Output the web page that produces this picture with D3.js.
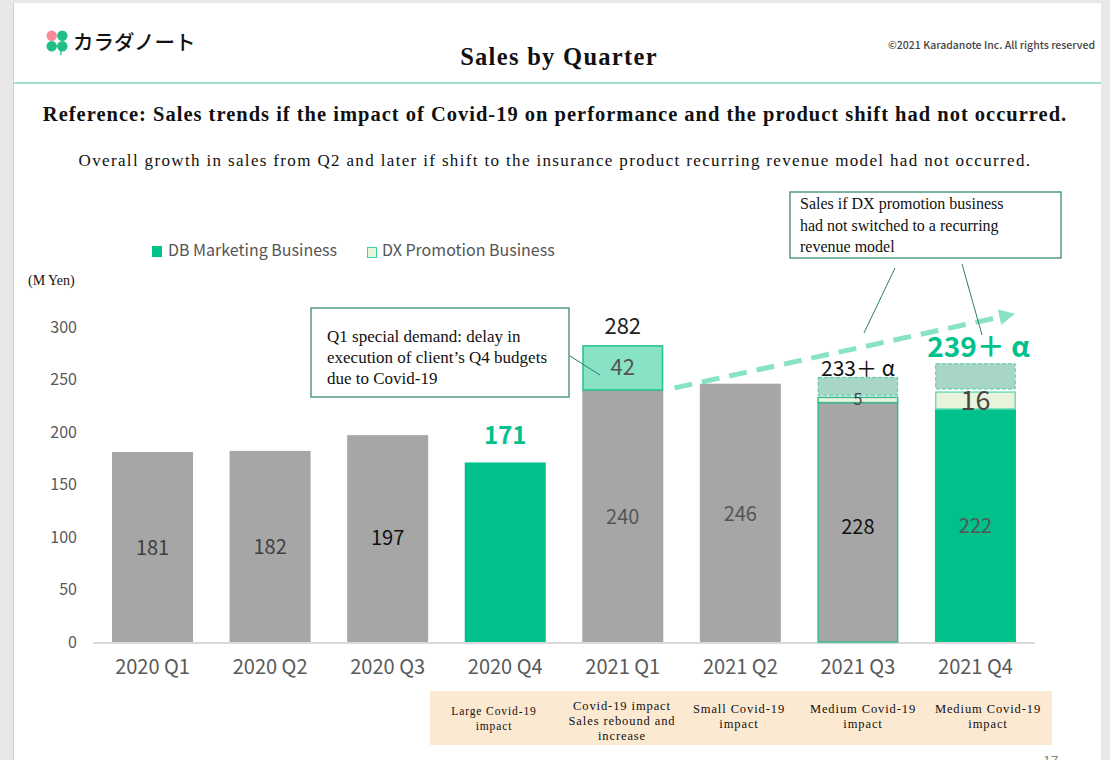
<!DOCTYPE html>
<html><head><meta charset="utf-8">
<script src="https://cdn.jsdelivr.net/npm/d3@7/dist/d3.min.js"></script>
<style>body{margin:0;background:#e8e8e8;}svg{display:block;}</style>
</head><body>
<svg id="c" width="1110" height="760"></svg>
<script>
const quarters = ["2020 Q1","2020 Q2","2020 Q3","2020 Q4","2021 Q1","2021 Q2","2021 Q3","2021 Q4"];
const dbValues = [181,182,197,171,240,246,228,222];
const dxValues = [0,0,0,0,42,0,5,16];
const alphaLow = [null,null,null,null,null,null,235,241];
const alphaHigh = [null,null,null,null,null,null,252,265];
const totalLabels = ["","","","171","282","","233＋ α","239＋ α"];
const yTicks = [0,50,100,150,200,250,300];
const impactNotes = [["Large Covid-19","impact"],["Covid-19 impact","Sales rebound and","increase"],["Small Covid-19","impact"],["Medium Covid-19","impact"],["Medium Covid-19","impact"]];
const trendPoints = [[4.44,242],[7.27,311]];

const svg = d3.select("#c");
const sans = "'Noto Sans CJK JP','Noto Sans',sans-serif";
const serif = "'Liberation Serif','Times New Roman',serif";
// page
svg.append("rect").attr("x",14).attr("y",3).attr("width",1087).attr("height",757).attr("fill","#fff");
svg.append("line").attr("x1",13.5).attr("x2",13.5).attr("y1",3).attr("y2",760).attr("stroke","#d0d0d0");
svg.append("line").attr("x1",14).attr("x2",1101).attr("y1",83).attr("y2",83).attr("stroke","#7fd8b8").attr("stroke-width",1.5);

// logo (clover)
const lg = svg.append("g").attr("transform","translate(57,41)");
[["#f58a9a",-1,-1],["#1fbf86",1,-1],["#1fbf86",1,1],["#1fbf86",-1,1]].forEach(([c,sx,sy])=>{
  lg.append("circle").attr("cx",sx*5.3).attr("cy",sy*5.3).attr("r",5.2).attr("fill",c);
});
lg.append("path").attr("d","M3,9 Q5,12 3.5,14").attr("stroke","#1fbf86").attr("stroke-width",1.3).attr("fill","none");
svg.append("text").attr("x",73).attr("y",50).attr("font-family",sans).attr("font-size",20.5).attr("font-weight",500).attr("fill","#111").text("カラダノート");
svg.append("text").attr("x",1095).attr("y",49).attr("text-anchor","end").attr("font-family",sans).attr("font-size",10.5).attr("font-weight",500).attr("fill","#444").text("©2021 Karadanote Inc. All rights reserved");
svg.append("text").attr("x",559).attr("y",65).attr("text-anchor","middle").attr("font-family",serif).attr("font-weight","bold").attr("font-size",24.5).attr("fill","#111").attr("letter-spacing",1.3).text("Sales by Quarter");
svg.append("text").attr("x",555).attr("y",121).attr("text-anchor","middle").attr("font-family",serif).attr("font-weight","bold").attr("font-size",20.5).attr("letter-spacing",1.0).attr("fill","#111").text("Reference: Sales trends if the impact of Covid-19 on performance and the product shift had not occurred.");
svg.append("text").attr("x",555).attr("y",166).attr("text-anchor","middle").attr("font-family",serif).attr("font-size",17).attr("letter-spacing",1.35).attr("fill","#111").text("Overall growth in sales from Q2 and later if shift to the insurance product recurring revenue model had not occurred.");

// legend
svg.append("rect").attr("x",152).attr("y",246).attr("width",10).attr("height",11).attr("fill","#00c08b");
svg.append("text").attr("x",168).attr("y",256).attr("font-family",sans).attr("font-size",16).attr("fill","#555").text("DB Marketing Business");
svg.append("rect").attr("x",367.5).attr("y",247.5).attr("width",9).attr("height",10).attr("fill","#e8f3dc").attr("stroke","#3cd39e");
svg.append("text").attr("x",382).attr("y",256).attr("font-family",sans).attr("font-size",16).attr("fill","#555").text("DX Promotion Business");
svg.append("text").attr("x",28).attr("y",285).attr("font-family",serif).attr("font-size",14).attr("fill","#111").text("(M Yen)");

// scales
const x = d3.scaleBand().domain(quarters).range([93.7,1034.3]).paddingInner(0.311).paddingOuter(0.156);
const y = d3.scaleLinear().domain([0,300]).range([642,327]);

// y axis
const ya = svg.append("g").attr("transform","translate(77,0)").call(d3.axisLeft(y).tickValues(yTicks).tickSize(0).tickPadding(0));
ya.select(".domain").remove();
ya.selectAll("text").attr("font-family",sans).attr("font-size",16).attr("fill","#595959");

// baseline
svg.append("line").attr("x1",93).attr("x2",1035).attr("y1",y(0)+1).attr("y2",y(0)+1).attr("stroke","#d9d9d9").attr("stroke-width",2);

// x axis
const xa = svg.append("g").attr("transform",`translate(0,${y(0)})`).call(d3.axisBottom(x).tickSize(0).tickPadding(18));
xa.select(".domain").remove();
xa.selectAll("text").attr("font-family",sans).attr("font-size",20).attr("fill","#595959");

// bars
const greenIdx = new Set([3,7]);
quarters.forEach((q,i)=>{
  const bx = x(q), bw = x.bandwidth();
  const col = greenIdx.has(i) ? "#00c08b" : "#a6a6a6";
  const r = svg.append("rect").attr("x",bx).attr("width",bw).attr("y",y(dbValues[i])).attr("height",y(0)-y(dbValues[i])).attr("fill",col);
  if(i===6) r.attr("stroke","#3bb88f").attr("stroke-width",1.5).attr("x",bx+0.75).attr("width",bw-1.5);
  if(dxValues[i]>0){
    const top = dbValues[i]+dxValues[i];
    const fill = i===4 ? "#88e2c6" : "#e8f3dc";
    const stroke = i===4 ? "#21c28c" : (i===6?"#3bb88f":"#6fdcb5");
    svg.append("rect").attr("x",bx+0.75).attr("width",bw-1.5).attr("y",y(top)).attr("height",y(dbValues[i])-y(top)).attr("fill",fill).attr("stroke",stroke).attr("stroke-width",1.5);
  }
  if(alphaLow[i]!=null){
    svg.append("rect").attr("x",bx+0.75).attr("width",bw-1.5).attr("y",y(alphaHigh[i])).attr("height",y(alphaLow[i])-y(alphaHigh[i])).attr("fill","#a7d6c8").attr("stroke","#4fc9a0").attr("stroke-width",1).attr("stroke-dasharray","4,2");
  }
});

// value labels inside
const inColor = ["#404040","#404040","#111","", "#555","#555","#111","#555"];
const inDy = [8,8,6,0,8,8,12,8];
quarters.forEach((q,i)=>{
  if(i===3) return;
  const cx = x(q)+x.bandwidth()/2;
  svg.append("text").attr("x",cx).attr("y",(y(dbValues[i])+y(0))/2+inDy[i]).attr("text-anchor","middle").attr("font-family",sans).attr("font-size",20).attr("fill",inColor[i]).text(dbValues[i]);
});
// DX labels
[[4,22,"#555",7],[6,16,"#444",5],[7,27,"#444",9]].forEach(([i,fs,c,dy])=>{
  const cx = x(quarters[i])+x.bandwidth()/2;
  const mid = (y(dbValues[i])+y(dbValues[i]+dxValues[i]))/2;
  svg.append("text").attr("x",cx).attr("y",mid+dy).attr("text-anchor","middle").attr("font-family",sans).attr("font-size",fs).attr("fill",c).text(dxValues[i]);
});
// totals
const totStyle = {3:[24,"bold","#00c08b",444],4:[22,"normal","#222",334],6:[21,"normal","#111",376],7:[28,"bold","#00c08b",357]};
Object.entries(totStyle).forEach(([i,[fs,fw,c,ty]])=>{
  const cx = x(quarters[i])+x.bandwidth()/2;
  svg.append("text").attr("x",cx+(i==7?3:0)).attr("y",ty).attr("text-anchor","middle").attr("font-family",sans).attr("font-size",fs).attr("font-weight",fw).attr("fill",c).text(totalLabels[i]);
});

// trend arrow
const xi = v => x(quarters[0]) + x.bandwidth()/2 + v*x.step();
const p0 = [xi(trendPoints[0][0]), y(trendPoints[0][1])];
const p1 = [xi(trendPoints[1][0]), y(trendPoints[1][1])];
svg.append("defs").append("marker").attr("id","ah").attr("viewBox","0 0 10 10").attr("refX",5).attr("refY",5).attr("markerWidth",3.2).attr("markerHeight",3.2).attr("orient","auto")
  .append("path").attr("d","M0,0 L10,5 L0,10 Z").attr("fill","#88e2c6");
svg.append("line").attr("x1",p0[0]).attr("y1",p0[1]).attr("x2",p1[0]).attr("y2",p1[1]).attr("stroke","#88e2c6").attr("stroke-width",5).attr("stroke-dasharray","18,10").attr("marker-end","url(#ah)");

// callout 1
svg.append("line").attr("x1",570).attr("y1",356).attr("x2",600).attr("y2",375).attr("stroke","#2f7d66").attr("stroke-width",1);
svg.append("rect").attr("x",311).attr("y",308).attr("width",258).attr("height",89).attr("fill","#fff").attr("stroke","#3a8a72").attr("stroke-width",1.3);
["Q1 special demand: delay in","execution of client’s Q4 budgets","due to Covid-19"].forEach((t,k)=>{
  svg.append("text").attr("x",327).attr("y",342+k*21).attr("font-family",serif).attr("font-size",17).attr("fill","#111").text(t);
});
// callout 2
svg.append("rect").attr("x",790).attr("y",192).attr("width",271).attr("height",66).attr("fill","#fff").attr("stroke","#3a8a72").attr("stroke-width",1.3);
["Sales if DX promotion business","had not switched to a recurring","revenue model"].forEach((t,k)=>{
  svg.append("text").attr("x",800).attr("y",209+k*21.5).attr("font-family",serif).attr("font-size",16).attr("fill","#111").text(t);
});
svg.append("line").attr("x1",895).attr("y1",268).attr("x2",864).attr("y2",333).attr("stroke","#2f7d66").attr("stroke-width",1);
svg.append("line").attr("x1",962).attr("y1",264).attr("x2",982).attr("y2",335).attr("stroke","#2f7d66").attr("stroke-width",1);

// impact notes
svg.append("rect").attr("x",430).attr("y",691).attr("width",622).attr("height",54).attr("fill","#fce9d1");
const noteX = [494,622,739,863,988];
impactNotes.forEach((lines,k)=>{
  const start = lines.length===3?706:(k===0?711:709);
  lines.forEach((t,j)=>{
    svg.append("text").attr("x",noteX[k]).attr("y",start+j*15+4).attr("text-anchor","middle").attr("font-family",serif).attr("font-size",k===0?11.5:12.5).attr("letter-spacing",0.9).attr("fill","#111").text(t);
  });
});
svg.append("text").attr("x",1043).attr("y",766).attr("font-family",sans).attr("font-size",14).attr("fill","#888").text("17");
</script>
</body></html>
